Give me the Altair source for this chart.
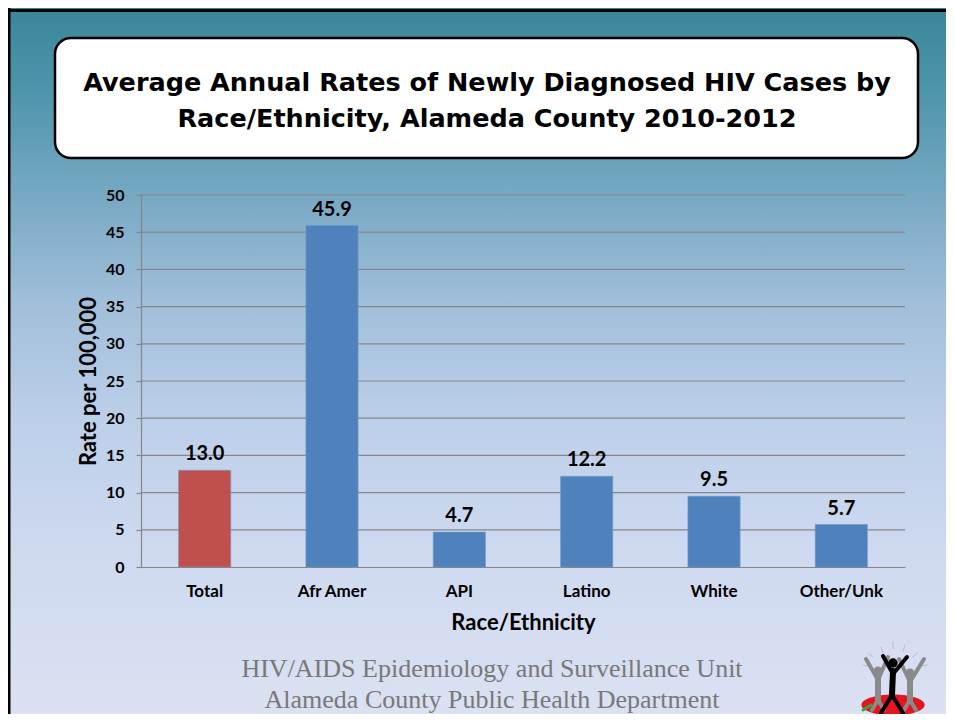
import altair as alt
import pandas as pd

# ---- data ----
categories = ["Total", "Afr Amer", "API", "Latino", "White", "Other/Unk"]
rates = [13.0, 45.9, 4.7, 12.2, 9.5, 5.7]
groups = ["total", "group", "group", "group", "group", "group"]
y_ticks = [0, 5, 10, 15, 20, 25, 30, 35, 40, 45, 50]
title_lines = ["Average Annual Rates of Newly Diagnosed HIV Cases by",
               "Race/Ethnicity, Alameda County 2010-2012"]
footer_lines = ["HIV/AIDS Epidemiology and Surveillance Unit",
                "Alameda County Public Health Department"]
x_title = "Race/Ethnicity"
y_title = "Rate per 100,000"

df = pd.DataFrame({"cat": categories, "rate": rates, "grp": groups})
grid_df = pd.DataFrame({"rate": y_ticks[1:]})
one = pd.DataFrame({"k": [0]})

W, H = 764, 372
PL, PT, PR, PB = 133, 187, 41, 147

FONT = "Lato"
GRAY = "#868686"

grad = alt.LinearGradient(
    gradient="linear",
    stops=[
        alt.GradientStop(offset=0.0, color="#3a8699"),
        alt.GradientStop(offset=0.12, color="#4f95ab"),
        alt.GradientStop(offset=0.27, color="#78a9c4"),
        alt.GradientStop(offset=0.42, color="#a1bfda"),
        alt.GradientStop(offset=0.58, color="#bccfe9"),
        alt.GradientStop(offset=0.78, color="#cfdaf0"),
        alt.GradientStop(offset=1.0, color="#dae1f2"),
    ],
    x1=0, x2=0, y1=0, y2=1,
)

bg = alt.Chart(one).mark_rect(color=grad).encode(
    x=alt.value(-PL), x2=alt.value(W + PR), y=alt.value(-PT), y2=alt.value(H + PB)
)


def seg(x1, y1, x2, y2, color, width):
    return alt.Chart(one).mark_rule(color=color, strokeWidth=width, strokeCap="round").encode(
        x=alt.value(x1), y=alt.value(y1), x2=alt.value(x2), y2=alt.value(y2)
    )


border_top = seg(-PL, -PT + 2.5, W + PR, -PT + 2.5, "black", 3)
border_left = seg(-PL + 1, -PT + 1, -PL + 1, H + PB, "black", 3)

title_box = alt.Chart(one).mark_rect(
    fill="white", stroke="black", strokeWidth=2.5, cornerRadius=16
).encode(
    x=alt.value(-86), x2=alt.value(777), y=alt.value(-157), y2=alt.value(-37)
)


def text_line(txt, x, y, font, size, weight, color):
    return alt.Chart(one).mark_text(
        font=font, fontSize=size, fontWeight=weight, color=color,
        align="center", baseline="middle"
    ).encode(x=alt.value(x), y=alt.value(y), text=alt.value(txt))


title1 = text_line(title_lines[0], 346, -112, "DejaVu Sans", 25.5, "bold", "black")
title2 = text_line(title_lines[1], 346, -76, "DejaVu Sans", 25.5, "bold", "black")
foot1 = text_line(footer_lines[0], 351, 474, "Liberation Serif", 26, "normal", "#787878")
foot2 = text_line(footer_lines[1], 351, 505, "Liberation Serif", 26, "normal", "#787878")

y_scale = alt.Scale(domain=[0, 50], nice=False)

x_enc = alt.X(
    "cat:N", sort=categories,
    scale=alt.Scale(paddingInner=0.59, paddingOuter=0.295),
    axis=alt.Axis(
        title=x_title, labelAngle=0, ticks=False, grid=False, zindex=1,
        domainColor=GRAY, domainWidth=1.2,
        labelFont=FONT, labelFontSize=17, labelFontWeight="bold", labelColor="black",
        labelPadding=16,
        titleFont=FONT, titleFontSize=22, titleFontWeight="bold", titleColor="black",
        titlePadding=13,
    ),
)
y_axis = alt.Axis(
    title=y_title, values=y_ticks, grid=False, zindex=1,
    domainColor=GRAY, domainWidth=1.2, tickColor=GRAY, tickSize=5, tickWidth=1.2,
    labelFont=FONT, labelFontSize=16, labelFontWeight="bold", labelColor="black",
    labelPadding=12,
    titleFont=FONT, titleFontSize=22, titleFontWeight="bold", titleColor="black",
    titleX=-53, titleY=H / 2, titleAngle=270, titleBaseline="middle", titleAlign="center",
)

grid = alt.Chart(grid_df).mark_rule(color=GRAY, strokeWidth=1.2).encode(
    y=alt.Y("rate:Q", scale=y_scale, axis=y_axis),
    x=alt.value(0), x2=alt.value(W),
)

bars = alt.Chart(df).mark_bar(stroke="#6e9ad0", strokeWidth=0.6).encode(
    x=x_enc, y=alt.Y("rate:Q", scale=y_scale, axis=y_axis),
    color=alt.Color("grp:N", scale=alt.Scale(domain=["total", "group"],
                                             range=["#c0504d", "#4f81bd"]), legend=None),
)

labels = alt.Chart(df).mark_text(
    font=FONT, fontSize=20, fontWeight="bold", color="black",
    align="center", baseline="alphabetic", dy=-10
).encode(
    x=alt.X("cat:N", sort=categories),
    y=alt.Y("rate:Q", scale=y_scale, axis=y_axis),
    text=alt.Text("rate:Q", format=".1f"),
)

# ---- small logo decoration (bottom right) ----
logo = []
for (a, b, c, d) in [(740, 452, 742, 458), (752, 447, 752, 453), (764, 450, 762, 456),
                     (776, 458, 772, 462), (786, 470, 781, 471), (722, 470, 727, 471),
                     (728, 459, 732, 462)]:
    logo.append(seg(a, b, c, d, "#b8bec8", 1))
blob = alt.Chart(one).mark_point(
    shape="M -1 0 A 1 0.33 0 1 0 1 0 A 1 0.33 0 1 0 -1 0 Z",
    filled=True, color="#e3161d", opacity=1, size=4000
).encode(x=alt.value(752), y=alt.value(510))
logo.append(blob)
logo.append(seg(722, 515, 730, 510, "#3aa046", 3))
for (hx, hy, hip, l, r) in [(737, 476, 505, (725, 464), (747, 462)),
                            (769, 478, 505, (758, 464), (783, 464))]:
    logo.append(seg(hx, hy + 6, hx, hip, "#8a8a8a", 6))
    logo.append(seg(hx, hy + 9, l[0], l[1], "#8a8a8a", 4))
    logo.append(seg(hx, hy + 9, r[0], r[1], "#8a8a8a", 4))
    logo.append(seg(hx, hip, hx - 6, 515, "#8a8a8a", 4))
    logo.append(seg(hx, hip, hx + 6, 515, "#8a8a8a", 4))
    logo.append(alt.Chart(one).mark_point(shape="circle", filled=True, color="#8a8a8a",
                                          size=80, opacity=1).encode(x=alt.value(hx), y=alt.value(hy)))
logo.append(seg(752, 476, 751, 500, "black", 6))
logo.append(seg(752, 479, 742, 461, "black", 4))
logo.append(seg(752, 479, 766, 462, "black", 4))
logo.append(seg(751, 500, 740, 518, "black", 4))
logo.append(seg(751, 500, 762, 518, "black", 4))
logo.append(alt.Chart(one).mark_point(shape="circle", filled=True, color="black",
                                      size=90, opacity=1).encode(x=alt.value(752), y=alt.value(468)))

chart = alt.layer(
    bg, border_top, border_left, title_box, title1, title2, foot1, foot2,
    grid, bars, labels, *logo
).properties(
    width=W, height=H,
    autosize=alt.AutoSizeParams(type="none"),
    padding={"left": PL, "top": PT, "right": PR, "bottom": PB},
).configure_view(stroke=None)

chart.save("out.html", embed_options={"renderer": "svg", "actions": False})
